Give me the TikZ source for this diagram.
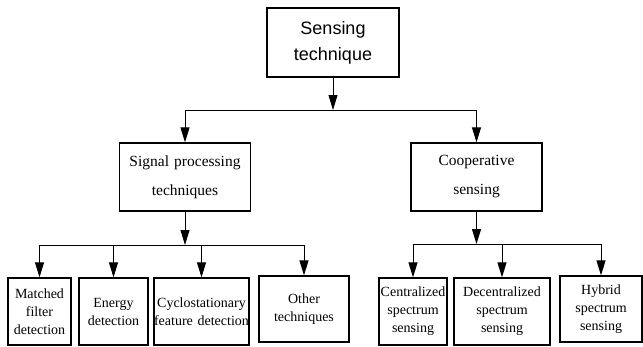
\documentclass[tikz,border=0pt]{standalone}
\usepackage{fontspec}
\setmainfont{Liberation Serif}
\newfontfamily\headfont{Liberation Sans}
\usetikzlibrary{arrows.meta}

\tikzset{
  box/.style={draw, line width=1.3pt, inner sep=0pt, align=center},
  topbox/.style={box, text width=132pt, minimum height=69pt, font=\headfont\fontsize{18}{26}\selectfont},
  midbox/.style={box, text width=131pt, minimum height=68pt, font=\fontsize{15.5}{29}\selectfont},
  leafbox/.style={box, minimum height=67pt, font=\fontsize{14}{18}\selectfont},
  link/.style={line width=1pt, -{Triangle[length=15pt,width=9pt]}}
}

\begin{document}
\begin{tikzpicture}[x=1pt, y=-1pt]
    \useasboundingbox (0,0) rectangle (643,346);
    % Root
    \node[topbox] (root) at (333,42.5) {Sensing\\technique};
    % Second level
    \node[midbox] (sig) at (185,177) {Signal processing\\techniques};
    \node[midbox] (coop) at (476.5,177) {Cooperative\\sensing};
    % Leaves under signal processing
    \node[leafbox, text width=63pt] (mf) at (39.5,311.5) {Matched\\filter\\detection};
    \node[leafbox, text width=69pt] (en) at (113.5,311.5) {Energy\\detection};
    \node[leafbox, text width=95pt] (cy) at (201.5,311.5) {Cyclostationary\\feature detection};
    \node[leafbox, text width=90pt, minimum height=66pt] (ot) at (304,309) {Other\\techniques};
    % Leaves under cooperative sensing
    \node[leafbox, text width=68pt] (ce) at (413,311.5) {Centralized\\spectrum\\sensing};
    \node[leafbox, text width=96pt] (de) at (502,311.5) {Decentralized\\spectrum\\sensing};
    \node[leafbox, text width=82pt, minimum height=66pt] (hy) at (601,309) {Hybrid\\spectrum\\sensing};
    % Junction points on the bars
    \coordinate (j0) at (333,110);
    \coordinate (j1) at (185,245);
    \coordinate (j2) at (476.5,244);
    % Connectors
    \draw[link] (root.south) -- (j0);
    \draw[link] (j0) -| (sig.north);
    \draw[link] (j0) -| (coop.north);
    \draw[link] (sig.south) -- (j1);
    \foreach \leaf in {mf, en, cy, ot}
        \draw[link] (j1) -| (\leaf.north);
    \draw[link] (coop.south) -- (j2);
    \foreach \leaf in {ce, de, hy}
        \draw[link] (j2) -| (\leaf.north);
\end{tikzpicture}
\end{document}
